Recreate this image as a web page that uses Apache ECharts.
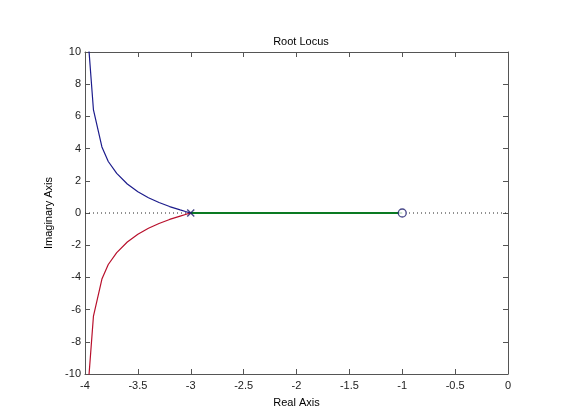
<!DOCTYPE html>
<html>
<head>
<meta charset="utf-8">
<script src="https://cdn.jsdelivr.net/npm/echarts@6/dist/echarts.min.js"></script>
<style>html,body{margin:0;padding:0;background:#fff}#c{width:561px;height:420px}</style>
</head>
<body>
<div id="c"></div>
<script>
// Upper branch (blue)
var upperBranch = [[-3,0],[-3.05,0.09],[-3.1,0.19],[-3.2,0.4],[-3.3,0.65],[-3.4,0.95],[-3.5,1.32],[-3.6,1.8],[-3.7,2.46],[-3.78,3.2],[-3.84,4.1],[-3.92,6.4],[-3.966,10.4]];
// Lower branch (red)
var lowerBranch = [[-3,0],[-3.05,-0.09],[-3.1,-0.19],[-3.2,-0.4],[-3.3,-0.65],[-3.4,-0.95],[-3.5,-1.32],[-3.6,-1.8],[-3.7,-2.46],[-3.78,-3.2],[-3.84,-4.1],[-3.92,-6.4],[-3.966,-10.4]];
// Real-axis branch (green)
var realBranch = [[-3,0],[-1,0]];
var poles = [[-3,0]];
var zeros = [[-1,0]];
var zeroLine = [[-4,0],[0,0]];
var xTicks = {min:-4, max:0, interval:0.5};
var yTicks = {min:-10, max:10, interval:2};

var font = 'Liberation Sans, Arial, sans-serif';
var axisCol = '#555555';
var chart = echarts.init(document.getElementById('c'), null, {renderer:'canvas'});
var baseAxis = {
  axisLine:{show:true, onZero:false, lineStyle:{color:axisCol, width:1}},
  axisTick:{show:true, inside:true, length:5, lineStyle:{color:axisCol}},
  splitLine:{show:false},
  axisLabel:{color:'#222', fontFamily:font, fontSize:11}
};
chart.setOption({
  animation:false,
  backgroundColor:'#fff',
  title:{text:'Root Locus', left:296, top:31, textAlign:'center',
    textStyle:{fontFamily:font, fontSize:11, fontWeight:'normal', color:'#000'}},
  grid:{left:85, top:52, right:53, bottom:46, containLabel:false},
  xAxis:[
    Object.assign({}, baseAxis, {type:'value', position:'bottom', min:xTicks.min, max:xTicks.max, interval:xTicks.interval,
      name:'Real Axis', nameLocation:'middle', nameGap:23,
      nameTextStyle:{fontFamily:font, fontSize:11, color:'#000'},
      axisLabel:{color:'#222', fontFamily:font, fontSize:11, margin:6}}),
    Object.assign({}, baseAxis, {type:'value', position:'top', min:xTicks.min, max:xTicks.max, interval:xTicks.interval,
      axisLabel:{show:false}})
  ],
  yAxis:[
    Object.assign({}, baseAxis, {type:'value', position:'left', min:yTicks.min, max:yTicks.max, interval:yTicks.interval,
      name:'Imaginary Axis', nameLocation:'middle', nameGap:20,
      nameTextStyle:{fontFamily:font, fontSize:11, color:'#000'},
      axisLabel:{color:'#222', fontFamily:font, fontSize:11, margin:4}}),
    Object.assign({}, baseAxis, {type:'value', position:'right', min:yTicks.min, max:yTicks.max, interval:yTicks.interval,
      axisLabel:{show:false}})
  ],
  series:[
    {type:'line', data:zeroLine, showSymbol:false, symbol:'none', silent:true,
      lineStyle:{color:'#222', width:1, type:[1,3]}, z:1},
    {type:'line', data:upperBranch, symbol:'none', clip:true,
      lineStyle:{color:'#1c1c8c', width:1.2}, z:2},
    {type:'line', data:lowerBranch, symbol:'none', clip:true,
      lineStyle:{color:'#b8102c', width:1.2}, z:2},
    {type:'line', data:realBranch, symbol:'none', clip:true,
      lineStyle:{color:'#0a7a22', width:2}, z:4},
    {type:'scatter', data:poles, symbol:'path://M0,0L10,10M10,0L0,10', symbolSize:7,
      itemStyle:{color:'none', borderColor:'#1c1c6c', borderWidth:1.4}, z:5},
    {type:'scatter', data:zeros, symbol:'circle', symbolSize:8,
      itemStyle:{color:'#fff', borderColor:'#1c1c6c', borderWidth:1.3}, z:5}
  ]
});
</script>
</body>
</html>
